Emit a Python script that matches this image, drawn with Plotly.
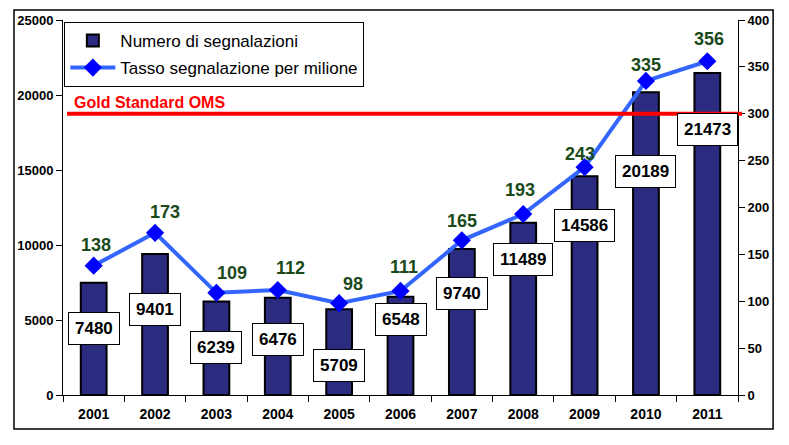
import plotly.graph_objects as go

years = ["2001", "2002", "2003", "2004", "2005", "2006", "2007", "2008", "2009", "2010", "2011"]
segnalazioni = [7480, 9401, 6239, 6476, 5709, 6548, 9740, 11489, 14586, 20189, 21473]
tasso = [138, 173, 109, 112, 98, 111, 165, 193, 243, 335, 356]
gold_standard = 300

# label placement (pixels), style only
bar_label_dy = [46, 56, 46, 42, 56, 23, 45, 37, 49, 79, 57]
rate_label_dx = [2, 10, 16, 13, 14, 3, 0, -3, -5, 0, 2]
rate_label_dy = [21, 21, 20, 22, 19, 24, 19, 24, 13, 16, 22]

FONT = "Arial, Liberation Sans, sans-serif"

fig = go.Figure()
fig.add_trace(go.Bar(
    x=years, y=segnalazioni, name="Numero di segnalazioni",
    marker=dict(color="#2b2b80", line=dict(color="black", width=2)),
    width=0.42, yaxis="y", legendgroup="a",
))
fig.add_trace(go.Scatter(
    x=years, y=tasso, name="Tasso segnalazione per milione",
    mode="lines+markers", yaxis="y2", legendgroup="b",
    line=dict(color="#3366ff", width=4),
    marker=dict(symbol="diamond", size=14, color="#0000ff"),
))

annotations = []
# category axis: annotation x given as category serial number
for i, v in enumerate(segnalazioni):
    annotations.append(dict(
        x=i, y=v, xref="x", yref="y", text=f"<b>{v}</b>", showarrow=False,
        yshift=-bar_label_dy[i], font=dict(family=FONT, size=17, color="black"),
        bgcolor="white", bordercolor="black", borderwidth=1, borderpad=6,
    ))
for i, r in enumerate(tasso):
    annotations.append(dict(
        x=i, y=r, xref="x", yref="y2", text=f"<b>{r}</b>", showarrow=False,
        xshift=rate_label_dx[i], yshift=rate_label_dy[i],
        font=dict(family=FONT, size=18, color="#1a4a1a"),
    ))
annotations.append(dict(
    x=0.013, y=gold_standard, xref="paper", yref="y2", xanchor="left", yanchor="middle",
    text="<b>Gold Standard OMS</b>", showarrow=False, yshift=11,
    font=dict(family=FONT, size=16, color="#ff0000"),
))

shapes = [
    dict(type="line", xref="paper", yref="y2", x0=0.006, x1=1.006, y0=gold_standard, y1=gold_standard,
         line=dict(color="#ff0000", width=4), layer="above"),
    dict(type="rect", xref="paper", yref="paper", x0=-0.0726, x1=1.052, y0=-0.0907, y1=1.0267,
         line=dict(color="black", width=1.5), fillcolor="rgba(0,0,0,0)", layer="below"),
]

fig.update_layout(
    width=781, height=437,
    margin=dict(l=55, r=51, t=12, b=50),
    plot_bgcolor="white", paper_bgcolor="white",
    font=dict(family=FONT, size=13, color="black"),
    showlegend=True,
    legend=dict(
        x=0.002, y=0.995, xanchor="left", yanchor="top",
        bgcolor="white", bordercolor="black", borderwidth=1,
        font=dict(family=FONT, size=17, color="black"),
        tracegroupgap=2, traceorder="grouped", itemwidth=45,
    ),
    xaxis=dict(
        type="category", range=[-0.5, len(years) - 0.5], autorange=False, automargin=False,
        showline=True, linecolor="black", linewidth=1,
        ticks="outside", tickson="boundaries", ticklen=6, tickcolor="black",
        ticklabelstandoff=6,
        tickfont=dict(family=FONT, size=14, color="black", weight="bold"),
        showgrid=False, zeroline=False,
    ),
    yaxis=dict(
        range=[0, 25000], dtick=5000, tickformat="d", automargin=False,
        showline=True, linecolor="black", linewidth=1,
        ticks="outside", ticklen=6, tickcolor="black", showgrid=False, zeroline=False,
        tickfont=dict(family=FONT, size=13, color="black", weight="bold"),
    ),
    yaxis2=dict(
        range=[0, 400], dtick=50, overlaying="y", side="right", automargin=False,
        showline=True, linecolor="black", linewidth=1,
        ticks="outside", ticklen=6, tickcolor="black", showgrid=False, zeroline=False,
        tickfont=dict(family=FONT, size=13, color="black", weight="bold"),
    ),
    annotations=annotations,
    shapes=shapes,
)

fig.write_html("out.html")
